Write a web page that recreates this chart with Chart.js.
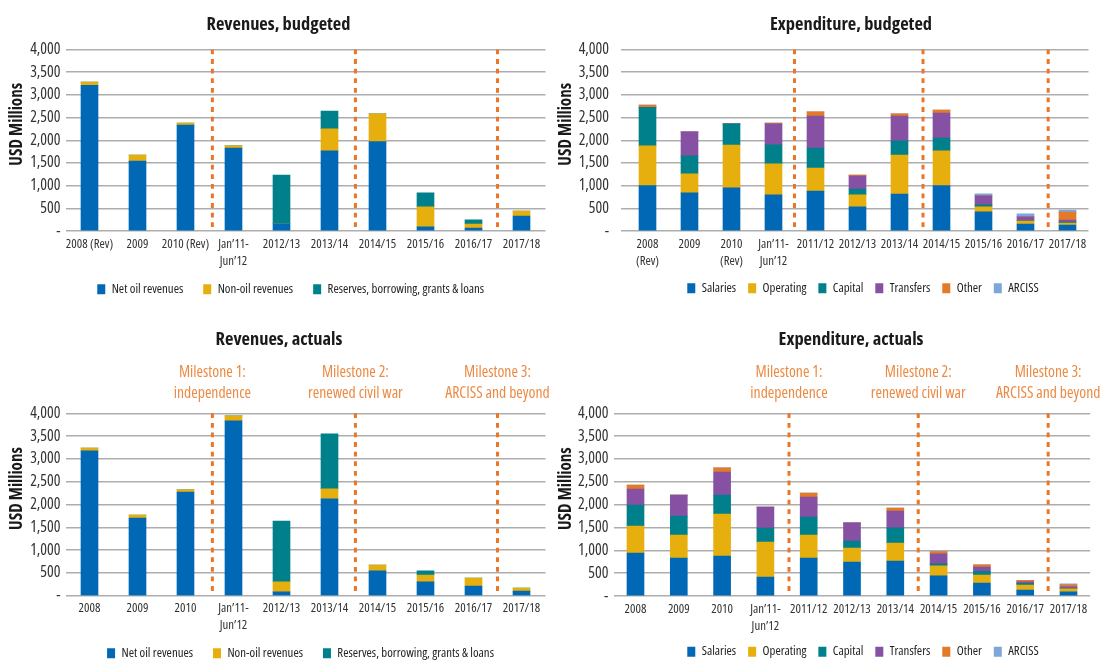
<!DOCTYPE html>
<html>
<head>
<meta charset="utf-8">
<script src="https://cdn.jsdelivr.net/npm/chart.js@4.4.1/dist/chart.umd.min.js"></script>
<style>
html,body{margin:0;padding:0;background:#fff;overflow:hidden;}
#wrap{position:relative;width:1102px;height:661px;overflow:hidden;background:#fff;}
canvas{position:absolute;}
</style>
</head>
<body>
<div id="wrap">
<canvas id="c1"></canvas>
<canvas id="c2"></canvas>
<canvas id="c3"></canvas>
<canvas id="c4"></canvas>
</div>
<script>
// ---------------- DATA ----------------
const yTickLabels = ['-', '500', '1,000', '1,500', '2,000', '2,500', '3,000', '3,500', '4,000'];

const revBudgetLabels = ['2008 (Rev)', '2009', '2010 (Rev)', ['Jan\u201911-', 'Jun\u201912'], '2012/13', '2013/14', '2014/15', '2015/16', '2016/17', '2017/18'];
const revBudgetNetOil   = [3210, 1540, 2335, 1830, 160, 1765, 1970, 90, 65, 330];
const revBudgetNonOil   = [70, 135, 45, 45, 0, 485, 610, 440, 90, 110];
const revBudgetReserves = [0, 0, 0, 0, 1075, 395, 0, 310, 90, 0];

const revActualLabels = ['2008', '2009', '2010', ['Jan\u201911-', 'Jun\u201912'], '2012/13', '2013/14', '2014/15', '2015/16', '2016/17', '2017/18'];
const revActualNetOil   = [3175, 1705, 2275, 3835, 85, 2125, 545, 305, 215, 105];
const revActualNonOil   = [65, 65, 45, 110, 220, 220, 130, 150, 175, 65];
const revActualReserves = [0, 0, 0, 0, 1335, 1205, 0, 90, 0, 0];

const expBudgetLabels = [['2008', '(Rev)'], '2009', ['2010', '(Rev)'], ['Jan\u201911-', 'Jun\u201912'], '2011/12', '2012/13', '2013/14', '2014/15', '2015/16', '2016/17', '2017/18'];
const expBudgetSalaries  = [1000, 840, 950, 795, 880, 530, 815, 1000, 420, 155, 130];
const expBudgetOperating = [875, 420, 945, 685, 505, 265, 860, 765, 110, 65, 45];
const expBudgetCapital   = [850, 395, 465, 420, 445, 130, 310, 285, 45, 5, 20];
const expBudgetTransfers = [0, 530, 0, 460, 705, 285, 550, 550, 200, 90, 45];
const expBudgetOther     = [50, 0, 0, 20, 90, 20, 45, 65, 0, 0, 175];
const expBudgetArciss    = [0, 0, 0, 0, 0, 0, 0, 0, 45, 65, 45];

const expActualLabels = ['2008', '2009', '2010', ['Jan\u201911-', 'Jun\u201912'], '2011/12', '2012/13', '2013/14', '2014/15', '2015/16', '2016/17', '2017/18'];
const expActualSalaries  = [940, 830, 875, 415, 830, 745, 765, 440, 285, 130, 90];
const expActualOperating = [590, 505, 920, 765, 505, 305, 395, 220, 175, 110, 65];
const expActualCapital   = [460, 415, 415, 305, 395, 155, 330, 45, 80, 35, 5];
const expActualTransfers = [350, 460, 505, 460, 435, 395, 370, 220, 95, 35, 40];
const expActualOther     = [90, 0, 90, 0, 90, 0, 65, 45, 45, 35, 45];
const expActualArciss    = [0, 0, 0, 0, 0, 0, 0, 0, 0, 0, 20];

const revenueSeriesNames = ['Net oil revenues', 'Non-oil revenues', 'Reserves, borrowing, grants & loans'];
const expenditureSeriesNames = ['Salaries', 'Operating', 'Capital', 'Transfers', 'Other', 'ARCISS'];

// milestone markers, in category-index units
const milestonesRevenue = [2.56, 5.54, 8.5];
const milestonesExpBudget = [3.5, 6.56, 9.54];
const milestonesExpActual = [3.545, 6.53, 9.53];
const milestoneTexts = [['Milestone 1:', 'independence'], ['Milestone 2:', 'renewed civil war'], ['Milestone 3:', 'ARCISS and beyond']];

// ---------------- FONT PICKING ----------------
function pickFont() {
  const c = document.createElement('canvas').getContext('2d');
  const s = 'Revenues, budgeted 2017/18 Milestone';
  const w = (f) => { c.font = f; return c.measureText(s).width; };
  const exists = (fam) => w('40px "' + fam + '", monospace') !== w('40px monospace') ||
                          w('40px "' + fam + '", serif') !== w('40px serif');
  const cands = [
    {fam: 'Open Sans', stretch: 'condensed'},
    {fam: 'Noto Sans', stretch: 'condensed'},
    {fam: 'Liberation Sans Narrow', stretch: ''},
    {fam: 'Roboto', stretch: 'condensed'},
    {fam: 'DejaVu Sans Condensed', stretch: ''},
    {fam: 'DejaVu Sans', stretch: 'condensed'}
  ];
  for (const k of cands) {
    if (!exists(k.fam)) continue;
    if (k.stretch) {
      const a = w('40px "' + k.fam + '"'), b = w(k.stretch + ' 40px "' + k.fam + '"');
      if (b < a * 0.93) return k;
    } else return k;
  }
  return {fam: 'Liberation Sans', stretch: ''};
}
const PICK = pickFont();
const FONT = '"' + PICK.fam + '", "Liberation Sans", Arial, sans-serif';
const W_NORMAL = PICK.stretch ? 'normal ' + PICK.stretch : 'normal';
const W_BOLD = PICK.stretch ? 'bold ' + PICK.stretch : 'bold';

function sizeFor(text, weight, target) {
  const c = document.createElement('canvas').getContext('2d');
  c.font = weight + ' 100px ' + FONT;
  return Math.round(100 * target / c.measureText(text).width * 10) / 10;
}
const TITLE_SIZE = sizeFor('Revenues, budgeted', W_BOLD, 144);
const YTITLE_SIZE = sizeFor('USD Millions', W_BOLD, 83);
const YTICK_SIZE = sizeFor('4,000', W_NORMAL, 30.3);
const XTICK_SIZE = sizeFor('2017/18', W_NORMAL, 37.3);
const LEGEND_FONT = sizeFor('Net oil revenues', W_NORMAL, 71.5);
const MILESTONE_SIZE = sizeFor('renewed civil war', W_NORMAL, 95);

// ---------------- STYLE ----------------
const COLORS = {
  blue: '#0068B4', yellow: '#E6AF0E', teal: '#00808A',
  purple: '#8651A2', orange: '#E27A28', light: '#7EA7D8'
};
const revColors = [COLORS.blue, COLORS.yellow, COLORS.teal];
const expColors = [COLORS.blue, COLORS.yellow, COLORS.teal, COLORS.purple, COLORS.orange, COLORS.light];

Chart.defaults.font.family = FONT;
Chart.defaults.font.weight = W_NORMAL;
Chart.defaults.color = '#333';
Chart.defaults.animation = false;

const TITLE_LH = 21.6;
const YTITLE_LH = 19.2;
const XTICK_LH = 16.7;
const XAXIS_H = 44;
const LEGEND_BOX_H = 10;
const LEGEND_ITEM_H = Math.max(LEGEND_FONT, LEGEND_BOX_H);

const panels = [
  { id: 'c1', title: 'Revenues, budgeted', labels: revBudgetLabels,
    series: [revBudgetNetOil, revBudgetNonOil, revBudgetReserves], names: revenueSeriesNames, colors: revColors,
    box: {x: 0, y: 0, w: 551, h: 340}, area: {l: 65.5, r: 545.5, t: 49.5, b: 231},
    yTitleX: 17.3, gridExt: 0, yTickPad: 5, xLine1: 244.3,
    titleAt: [278.5, 25], legendAt: [290.7, 289.3], legendPad: 20,
    milestones: milestonesRevenue, showMilestoneText: false },
  { id: 'c2', title: 'Expenditure, budgeted', labels: expBudgetLabels,
    series: [expBudgetSalaries, expBudgetOperating, expBudgetCapital, expBudgetTransfers, expBudgetOther, expBudgetArciss],
    names: expenditureSeriesNames, colors: expColors,
    box: {x: 551, y: 0, w: 551, h: 340}, area: {l: 626.5, r: 1088.5, t: 49.5, b: 231},
    yTitleX: 565.7, gridExt: 5.5, yTickPad: 12, xLine1: 244.3,
    titleAt: [851, 24.7], legendAt: [863, 288.3], legendPad: 12,
    milestones: milestonesExpBudget, showMilestoneText: false },
  { id: 'c3', title: 'Revenues, actuals', labels: revActualLabels,
    series: [revActualNetOil, revActualNonOil, revActualReserves], names: revenueSeriesNames, colors: revColors,
    box: {x: 0, y: 300, w: 551, h: 400}, area: {l: 65.5, r: 545.5, t: 413.3, b: 595.8},
    yTitleX: 17.3, gridExt: 0, yTickPad: 5, xLine1: 608.3,
    titleAt: [279, 340], legendAt: [300.5, 653.3], legendPad: 20,
    milestones: milestonesRevenue, showMilestoneText: true },
  { id: 'c4', title: 'Expenditure, actuals', labels: expActualLabels,
    series: [expActualSalaries, expActualOperating, expActualCapital, expActualTransfers, expActualOther, expActualArciss],
    names: expenditureSeriesNames, colors: expColors,
    box: {x: 551, y: 300, w: 551, h: 400}, area: {l: 613.85, r: 1090.15, t: 413.3, b: 596},
    yTitleX: 565.7, gridExt: 0, yTickPad: 5.5, xLine1: 609.3,
    titleAt: [851, 340], legendAt: [863, 651.7], legendPad: 12,
    milestones: milestonesExpActual, showMilestoneText: true }
];

function panelPlugin(p) {
  return {
    id: 'panelLayout',
    afterLayout(chart) {
      const t = chart.titleBlock;
      if (t) {
        const dx = (p.titleAt[0] - p.box.x) - (t.left + t.right) / 2;
        const dy = (p.titleAt[1] - p.box.y) - (t.top + TITLE_LH / 2);
        t.left += dx; t.right += dx; t.top += dy; t.bottom += dy;
      }
      const lg = chart.legend;
      if (lg) {
        const dx = (p.legendAt[0] - p.box.x) - (lg.left + lg.right) / 2;
        const dy = (p.legendAt[1] - p.box.y) - (lg.top + p.legendPad + LEGEND_ITEM_H / 2);
        lg.left += dx; lg.right += dx; lg.top += dy; lg.bottom += dy;
      }
      const ys = chart.scales.y;
      if (ys && !ys.__titleShift) {
        const orig = ys.drawTitle;
        ys.drawTitle = function () {
          const a = this.top, b = this.bottom;
          this.top -= 16; this.bottom -= 16;
          orig.call(this);
          this.top = a; this.bottom = b;
        };
        ys.__titleShift = true;
      }
    },
    afterDatasetsDraw(chart) {
      const {ctx, chartArea} = chart;
      const xs = chart.scales.x;
      ctx.save();
      ctx.strokeStyle = '#E8772A';
      ctx.lineWidth = 3;
      ctx.setLineDash([4.8, 4.8]);
      p.milestones.forEach((m) => {
        const px = xs.getPixelForValue(m);
        ctx.beginPath();
        ctx.moveTo(px, chartArea.top);
        ctx.lineTo(px, chartArea.bottom);
        ctx.stroke();
      });
      ctx.setLineDash([]);
      if (p.showMilestoneText) {
        ctx.fillStyle = '#EC8A43';
        ctx.font = W_NORMAL + ' ' + MILESTONE_SIZE + 'px ' + FONT;
        ctx.textAlign = 'center';
        ctx.textBaseline = 'middle';
        p.milestones.forEach((m, i) => {
          const px = xs.getPixelForValue(m);
          ctx.fillText(milestoneTexts[i][0], px, chartArea.top - 40.6);
          ctx.fillText(milestoneTexts[i][1], px, chartArea.top - 20);
        });
      }
      ctx.restore();
    }
  };
}

function makeChart(p) {
  const cv = document.getElementById(p.id);
  cv.width = p.box.w; cv.height = p.box.h;
  cv.style.left = p.box.x + 'px'; cv.style.top = p.box.y + 'px';
  const ax = p.area.l - p.box.x, ar = p.area.r - p.box.x;
  const at = p.area.t - p.box.y, ab = p.area.b - p.box.y;
  const yLeft = p.yTitleX - YTITLE_LH / 2 - p.box.x;
  const yW = ax - yLeft;
  const legendH = p.legendPad + LEGEND_ITEM_H + 10;
  const pad = {left: yLeft, right: p.box.w - ar, top: at - TITLE_LH, bottom: p.box.h - ab - XAXIS_H - legendH};
  const xPad = p.xLine1 - p.area.b - XTICK_LH / 2;

  return new Chart(cv, {
    type: 'bar',
    data: {
      labels: p.labels,
      datasets: p.series.map((d, i) => ({
        label: p.names[i], data: d, backgroundColor: p.colors[i],
        borderWidth: 0, barThickness: 17
      }))
    },
    options: {
      responsive: false,
      devicePixelRatio: 1,
      animation: false,
      layout: {padding: pad},
      plugins: {
        title: {display: true, text: p.title, color: '#1a1a1a', padding: 0,
                font: {size: TITLE_SIZE, weight: W_BOLD, lineHeight: TITLE_LH + 'px'}},
        legend: {position: 'bottom',
                 labels: {boxWidth: 8, boxHeight: LEGEND_BOX_H, padding: p.legendPad, color: '#222',
                          font: {size: LEGEND_FONT, weight: W_NORMAL}}},
        tooltip: {enabled: false}
      },
      scales: {
        x: {
          stacked: true,
          grid: {display: false, drawTicks: false},
          border: {display: false},
          ticks: {maxRotation: 0, minRotation: 0, autoSkip: false, padding: xPad, color: '#333',
                  font: {size: XTICK_SIZE, weight: W_NORMAL, lineHeight: XTICK_LH + 'px'}},
          afterFit: (s) => { s.height = XAXIS_H; }
        },
        y: {
          stacked: true, min: 0, max: 4000,
          border: {display: false},
          grid: {color: '#ADADAD', lineWidth: 1.5, drawTicks: p.gridExt > 0, tickLength: p.gridExt,
                 tickColor: '#ADADAD', tickWidth: 1.5},
          ticks: {stepSize: 500, padding: p.yTickPad, color: '#333',
                  font: {size: YTICK_SIZE, weight: W_NORMAL},
                  callback: (v) => yTickLabels[Math.round(v / 500)]},
          title: {display: true, text: 'USD Millions', color: '#1a1a1a', padding: 0,
                  font: {size: YTITLE_SIZE, weight: W_BOLD, lineHeight: YTITLE_LH + 'px'}},
          afterFit: (s) => { s.width = yW; }
        }
      }
    },
    plugins: [panelPlugin(p)]
  });
}

panels.forEach(makeChart);
</script>
</body>
</html>
